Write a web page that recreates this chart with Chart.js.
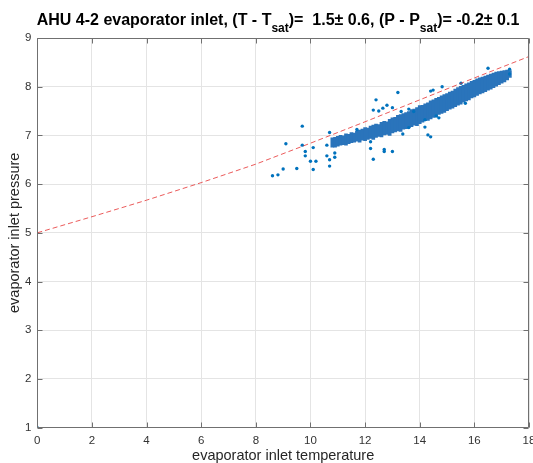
<!DOCTYPE html>
<html>
<head>
<meta charset="utf-8">
<script src="https://cdn.jsdelivr.net/npm/chart.js@4.4.1/dist/chart.umd.min.js"></script>
<style>
html, body { margin: 0; padding: 0; background: #fff; }
</style>
</head>
<body>
<canvas id="chartAHU" width="533" height="463"></canvas>
<script>
// ticks
var xTicks = [0, 2, 4, 6, 8, 10, 12, 14, 16, 18]
var yTicks = [1, 2, 3, 4, 5, 6, 7, 8, 9]

// saturation line (red dashed)
var satX = [0, 2, 4, 6, 8, 10, 12, 14, 16, 18]
var satY = [5.0, 5.33, 5.67, 6.03, 6.41, 6.84, 7.28, 7.73, 8.18, 8.62]

// dense band of samples, one column per x: low / high edge
var bandX = [10.8, 10.9, 11.0, 11.1, 11.2, 11.3, 11.4, 11.5, 11.6, 11.7, 11.8, 11.9,
   12.0, 12.1, 12.2, 12.3, 12.4, 12.5, 12.6, 12.7, 12.8, 12.9,
   13.0, 13.1, 13.2, 13.3, 13.4, 13.5, 13.6, 13.7, 13.8, 13.9,
   14.0, 14.1, 14.2, 14.3, 14.4, 14.5, 14.6, 14.7, 14.8, 14.9,
   15.0, 15.1, 15.2, 15.3, 15.4, 15.5, 15.6, 15.7, 15.8, 15.9,
   16.0, 16.1, 16.2, 16.3, 16.4, 16.5, 16.6, 16.7, 16.8, 16.9,
   17.0, 17.1, 17.2, 17.3]
var bandLow = [6.76, 6.76, 6.78, 6.80, 6.81, 6.80, 6.83, 6.85, 6.86, 6.88, 6.86, 6.90,
   6.89, 6.92, 6.94, 6.92, 6.96, 6.98, 6.97, 7.01, 7.02, 7.00,
   7.05, 7.07, 7.09, 7.08, 7.13, 7.14, 7.16, 7.18, 7.21, 7.20,
   7.24, 7.27, 7.30, 7.31, 7.34, 7.37, 7.38, 7.43, 7.45, 7.47,
   7.51, 7.54, 7.56, 7.59, 7.62, 7.64, 7.68, 7.71, 7.73, 7.77,
   7.79, 7.82, 7.85, 7.87, 7.90, 7.93, 7.95, 7.98, 8.01, 8.04,
   8.07, 8.10, 8.14, 8.19]
var bandHigh = [6.95, 6.96, 6.98, 7.00, 6.99, 7.03, 7.02, 7.06, 7.05, 7.09, 7.11, 7.13,
   7.16, 7.15, 7.19, 7.21, 7.23, 7.22, 7.27, 7.29, 7.28, 7.33,
   7.36, 7.37, 7.41, 7.43, 7.45, 7.47, 7.49, 7.53, 7.54, 7.57,
   7.61, 7.62, 7.65, 7.67, 7.71, 7.73, 7.76, 7.78, 7.81, 7.84,
   7.86, 7.89, 7.91, 7.95, 7.98, 8.01, 8.03, 8.06, 8.08, 8.11,
   8.13, 8.16, 8.18, 8.20, 8.22, 8.24, 8.26, 8.28, 8.30, 8.31,
   8.32, 8.33, 8.34, 8.33]

// scattered samples outside the band
var outX = [0, 8.61, 8.81, 9.0, 9.1, 9.5, 9.7, 9.7, 9.81, 9.81, 10.0, 10.1, 10.1, 10.2,
   10.6, 10.6, 10.7, 10.7, 10.7, 10.89, 10.89, 11.7, 12.2, 12.2, 12.3, 12.3, 12.4,
   12.5, 12.65, 12.7, 12.7, 12.8, 13.0, 13.0, 13.2, 13.32, 13.38, 13.6, 13.6, 13.78,
   14.19, 14.19, 14.3, 14.4, 14.4, 14.49, 14.6, 14.7, 14.82, 15.51, 15.67, 16.5,
   17.29, 17.29]
var outY = [1.0, 6.17, 6.19, 6.31, 6.83, 6.32, 7.19, 6.80, 6.67, 6.58, 6.47, 6.75, 6.30, 6.47,
   6.80, 6.58, 7.06, 6.50, 6.37, 6.64, 6.55, 7.12, 6.87, 6.73, 6.51, 7.52, 7.73,
   7.50, 7.56, 6.71, 6.67, 7.62, 6.67, 7.57, 7.88, 7.49, 7.03, 7.54, 7.16, 7.49,
   7.32, 7.17, 7.01, 6.97, 7.91, 7.93, 7.40, 7.36, 8.00, 8.07, 7.66, 8.38,
   8.36, 8.26]

var titleParts = [
   {text: 'AHU 4-2 evaporator inlet, (T - T', sub: false},
   {text: 'sat', sub: true},
   {text: ')=  1.5\u00b1 0.6, (P - P', sub: false},
   {text: 'sat', sub: true},
   {text: ')= -0.2\u00b1 0.1', sub: false}
]

var blue = 'rgb(0, 114, 189)'
var fontFace = '"Liberation Sans", Arial, Helvetica, sans-serif'

function pts(xs, ys){
   var out = []
   for (var i = 0; i < xs.length; i++) out.push({x: xs[i], y: ys[i]})
   return out
}

function bandBars(){
   var out = []
   for (var i = 0; i < bandX.length; i++) out.push({x: bandX[i], y: [bandLow[i], bandHigh[i]]})
   return out
}

// title with subscripts
const titlePlugin = {
   id: 'titlePlugin',
   afterDraw(chart) {
      const ctx = chart.ctx
      const mainFont = 'bold 16px ' + fontFace
      const subFont = 'bold 12px ' + fontFace
      ctx.save()
      let total = 0
      titleParts.forEach(p => {
         ctx.font = p.sub ? subFont : mainFont
         total += ctx.measureText(p.text).width
      })
      let x = 278 - total / 2
      ctx.fillStyle = '#000'
      ctx.textBaseline = 'alphabetic'
      ctx.textAlign = 'left'
      titleParts.forEach(p => {
         ctx.font = p.sub ? subFont : mainFont
         ctx.fillText(p.text, x, p.sub ? 32 : 25)
         x += ctx.measureText(p.text).width
      })
      ctx.restore()
   }
}

// matlab style box, inner ticks and x tick labels
const boxPlugin = {
   id: 'boxPlugin',
   afterDatasetsDraw(chart) {
      const ctx = chart.ctx
      const a = chart.chartArea
      const sx = chart.scales.x, sy = chart.scales.y
      const L = Math.round(a.left) + 0.5, R = Math.round(a.right) - 0.5
      const T = Math.round(a.top) + 0.5, B = Math.round(a.bottom) - 0.5
      ctx.save()
      ctx.strokeStyle = '#707070'
      ctx.lineWidth = 1
      ctx.beginPath()
      ctx.rect(L, T, R - L, B - T)
      xTicks.forEach(v => {
         const px = Math.round(sx.getPixelForValue(v)) + 0.5
         ctx.moveTo(px, B); ctx.lineTo(px, B - 5)
         ctx.moveTo(px, T); ctx.lineTo(px, T + 5)
      })
      yTicks.forEach(v => {
         const py = Math.round(sy.getPixelForValue(v)) + 0.5
         ctx.moveTo(L, py); ctx.lineTo(L + 5, py)
         ctx.moveTo(R, py); ctx.lineTo(R - 5, py)
      })
      ctx.stroke()
      ctx.fillStyle = '#333'
      ctx.font = '11.5px ' + fontFace
      ctx.textAlign = 'center'
      ctx.textBaseline = 'top'
      xTicks.forEach(v => ctx.fillText(String(v), sx.getPixelForValue(v), a.bottom + 7))
      ctx.restore()
   }
}

const ctx = document.getElementById('chartAHU').getContext('2d')
const chartAHU = new Chart(ctx, {
   type: 'scatter',
   data: {
      datasets: [
         {
            type: 'line',
            data: pts(satX, satY),
            borderColor: 'rgba(230, 50, 50, 0.8)',
            borderWidth: 1,
            borderDash: [5, 3],
            pointRadius: 0,
            fill: false,
            order: 0
         },
         {
            type: 'scatter',
            data: pts(outX, outY),
            backgroundColor: blue,
            borderWidth: 0,
            pointRadius: 1.7,
            order: 1
         },
         {
            type: 'bar',
            data: bandBars(),
            backgroundColor: 'rgb(42, 116, 187)',
            borderWidth: 0,
            barThickness: 3,
            order: 2
         }
      ]
   },
   options: {
      responsive: false,
      animation: false,
      layout: { padding: { top: 38, right: 2.5, left: 0, bottom: 0 } },
      plugins: { legend: { display: false }, tooltip: { enabled: false } },
      scales: {
         x: {
            type: 'linear',
            min: 0, max: 18,
            offset: false,
            grid: { color: '#e4e4e4', drawTicks: false, offset: false },
            border: { display: false },
            ticks: { display: false, stepSize: 2 },
            title: {
               display: true,
               text: 'evaporator inlet temperature',
               color: '#262626',
               font: { family: fontFace, size: 14.5 },
               padding: { top: 0, bottom: -2 }
            },
            afterFit(s) { s.height = 35.4 }
         },
         y: {
            type: 'linear',
            min: 1, max: 9,
            grid: { color: '#e4e4e4', drawTicks: false },
            border: { display: false },
            ticks: { stepSize: 1, padding: 6, color: '#333', font: { family: fontFace, size: 11.5 } },
            title: {
               display: true,
               text: 'evaporator inlet pressure',
               color: '#262626',
               font: { family: fontFace, size: 14.5 },
               padding: { top: 6, bottom: 0 }
            },
            afterFit(s) { s.width = 37.3 }
         }
      }
   },
   plugins: [titlePlugin, boxPlugin]
})
</script>
</body>
</html>
